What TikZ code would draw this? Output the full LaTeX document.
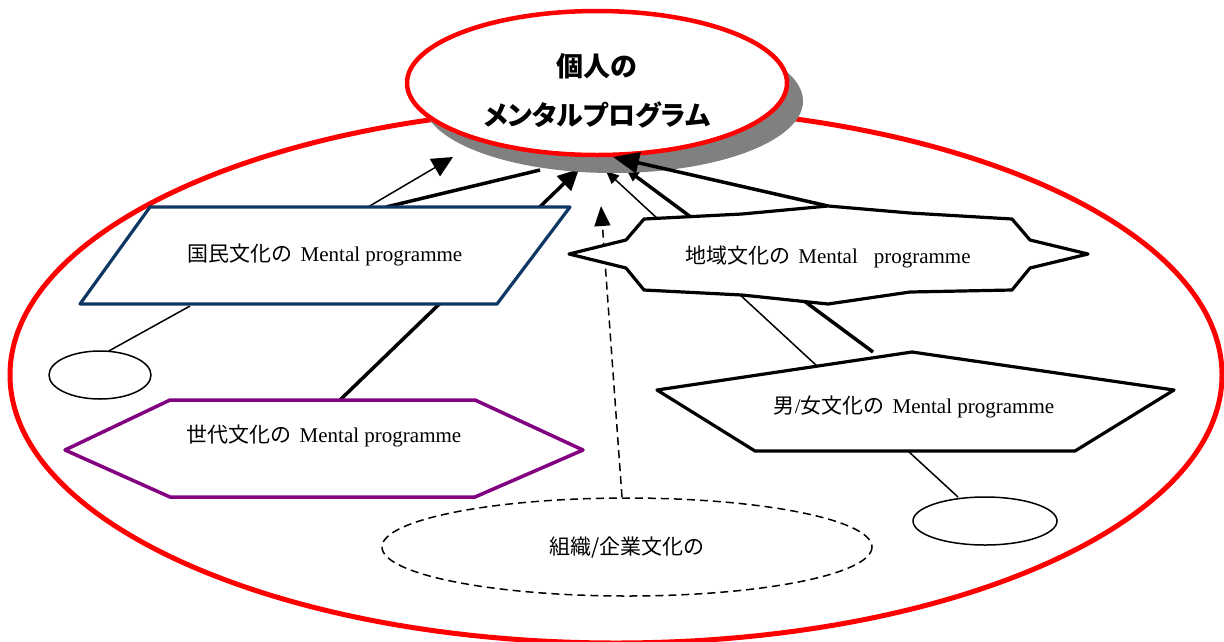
\documentclass[tikz,border=0pt]{standalone}
\usepackage{fontspec}
\setmainfont{Liberation Serif}
\newfontfamily\cjk{Noto Sans CJK JP}
\newfontfamily\cjkp{Noto Sans CJK JP}[RawFeature={+palt}]
\usetikzlibrary{arrows.meta}
\definecolor{navyline}{RGB}{15,55,100}
\definecolor{purpleline}{RGB}{128,0,128}
\definecolor{shadowgray}{RGB}{128,128,128}
\begin{document}
\begin{tikzpicture}[x=1pt,y=-1pt,line join=round]
\tikzset{
  thinconn/.style={line width=1.5pt},
  thickconn/.style={line width=3.5pt},
  longdash/.style={dash pattern=on 8pt off 5pt},
  bighead/.style={-{Triangle[length=21pt,width=20pt]}},
  smallhead/.style={-{Triangle[length=13pt,width=11pt]}},
  shapebox/.style={fill=white,line width=3.2pt},
  label/.style={font=\fontsize{21}{24}\selectfont,inner sep=0pt},
  titlelabel/.style={font=\fontsize{27}{30}\selectfont\bfseries,inner sep=0pt},
  smallell/.style={fill=white,line width=1.5pt}
}
\useasboundingbox (0,0) rectangle (1224,641);

% outer red ellipse
\draw[red,line width=5pt] (616,375) ellipse [x radius=606,y radius=268];

% named points
\coordinate (kTopA) at (368,207);
\coordinate (kTopB) at (386,207);
\coordinate (ptA) at (453,157);
\coordinate (ptB) at (540,170);
\coordinate (sedaiTop) at (340,400);
\coordinate (ptC) at (579,169);
\coordinate (danjoTopThin) at (817,366);
\coordinate (ptD) at (606,171);
\coordinate (danjoTopThick) at (873,352);
\coordinate (ptE) at (626,169);
\coordinate (chiikiPeak) at (828,206);
\coordinate (ptF) at (613,157);
\coordinate (soshikiTop) at (622,497);
\coordinate (ptG) at (601,206);
\coordinate (kBot) at (190,306);
\coordinate (ellLTop) at (107,352);
\coordinate (danjoBot) at (908,451);
\coordinate (ellRTop) at (958,497);

% connectors hidden partly by the shadow
\draw[thinconn,bighead] (kTopA) -- (ptA);
\draw[thickconn] (kTopB) -- (ptB);
\draw[thickconn,bighead] (sedaiTop) -- (ptC);
\draw[thinconn,smallhead] (danjoTopThin) -- (ptD);
\draw[thickconn,smallhead] (danjoTopThick) -- (ptE);

% top ellipse with shadow
\fill[shadowgray] (613,101) ellipse [x radius=190,y radius=72];
\draw[red,fill=white,line width=4.5pt] (597,83) ellipse [x radius=190,y radius=72];
\node[titlelabel,font=\cjk\fontsize{27}{30}\selectfont\bfseries] (kojin1) at (597,66) {個人の};
\node[titlelabel,font=\cjkp\fontsize{27}{30}\selectfont\bfseries] (kojin2) at (597,115) {メンタルプログラム};

\draw[thickconn,-{Triangle[length=26pt,width=21pt]}] (chiikiPeak) -- (ptF);
\draw[thinconn,longdash,-{Triangle[length=20pt,width=16pt]}] (soshikiTop) -- (ptG);
\draw[thinconn] (kBot) -- (ellLTop);
\draw[thinconn] (danjoBot) -- (ellRTop);

% small ellipses
\draw[smallell] (100,375) ellipse [x radius=51,y radius=24];
\draw[smallell] (985,521) ellipse [x radius=72,y radius=24];

% national culture (parallelogram)
\draw[shapebox,draw=navyline] (150,207) -- (570,207) -- (497,304) -- (80,304) -- cycle;
\node[label] (kokumin) at (325,255) {{\cjk 国民文化の}\hspace{8pt}Mental programme};

% generation culture (hexagon)
\draw[shapebox,draw=purpleline,line width=3.5pt] (65,450) -- (170,400) -- (475,400) -- (583,450) -- (475,497) -- (170,497) -- cycle;
\node[label] (sedai) at (324,436) {{\cjk 世代文化の}\hspace{8pt}Mental programme};

% regional culture
\draw[shapebox] (569,254) -- (626,240) -- (644,219) -- (742,214) -- (828,206) -- (910,213) -- (1012,219) -- (1030,240) -- (1088,254) -- (1030,268) -- (1012,290) -- (910,292) -- (828,304) -- (742,295) -- (644,290) -- (626,268) -- cycle;
\node[label] (chiiki) at (828,257) {{\cjk 地域文化の}\hspace{8pt}Mental\hspace{16pt}programme};

% gender culture
\draw[shapebox] (657,390) -- (912,352) -- (1174,390) -- (1075,451) -- (755,451) -- cycle;
\node[label] (danjo) at (914,407) {{\cjk 男}/{\cjk 女文化の}\hspace{8pt}Mental programme};

% organisational culture
\draw[thinconn,longdash,fill=white] (627,547) ellipse [x radius=245,y radius=49];
\node[label,font=\cjk\fontsize{21}{24}\selectfont] (soshiki) at (627,548) {組織/企業文化の};
\end{tikzpicture}
\end{document}
